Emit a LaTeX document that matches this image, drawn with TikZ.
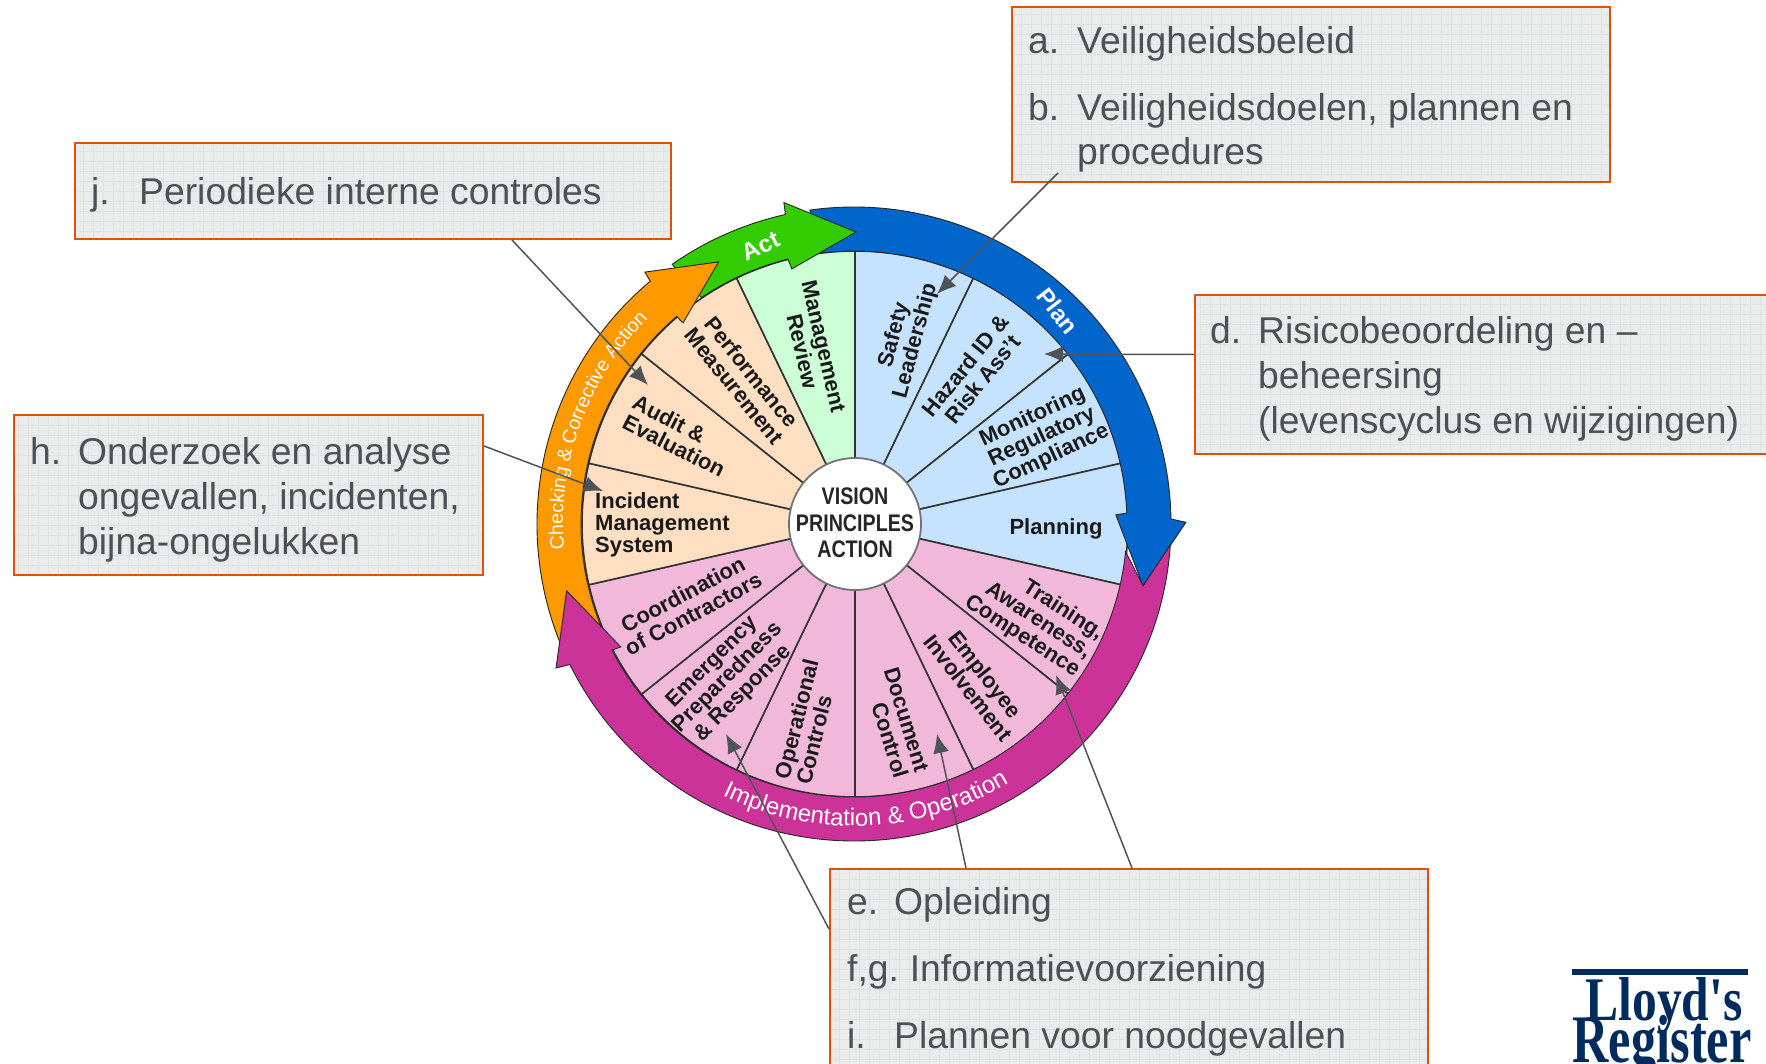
\documentclass[tikz,border=0pt]{standalone}
\usepackage{fontspec}
\setmainfont{Liberation Sans}
\newfontfamily\logofont{Liberation Serif}
\usetikzlibrary{arrows.meta,decorations.text}

\definecolor{boxfill}{HTML}{EAECEC}
\definecolor{boxgrid}{HTML}{DFE2E2}
\definecolor{boxline}{HTML}{E2500C}
\definecolor{boxtxt}{HTML}{4D5156}
\definecolor{leadgray}{HTML}{505458}
\definecolor{slicebl}{HTML}{C5E2FF}
\definecolor{slicepk}{HTML}{F1B8D9}
\definecolor{sliceor}{HTML}{FFDFC2}
\definecolor{slicegr}{HTML}{CCFFD6}
\definecolor{ringbl}{HTML}{0066CC}
\definecolor{ringpk}{HTML}{CC3399}
\definecolor{ringor}{HTML}{FF9900}
\definecolor{ringgr}{HTML}{33CC00}
\definecolor{logoblue}{HTML}{002B5C}

\newcommand{\squeezed}[2]{\scalebox{#1}[1]{#2}}

\tikzset{
    infobox/.style={anchor=north west, inner sep=0pt, fill=boxfill, draw=boxline, line width=2pt,
        path picture={\draw[boxgrid, line width=0.6pt] (path picture bounding box.south west) grid[step=10pt] (path picture bounding box.north east);}},
    boxtext/.style={anchor=base west, inner sep=0pt, text=boxtxt, align=left, font=\fontsize{37.3}{45}\selectfont},
    slicetext/.style={inner sep=0pt, align=center, text=black!90, font=\fontsize{22}{22}\bfseries\selectfont},
    ringtext/.style={inner sep=0pt, text=white, font=\fontsize{24}{24}\bfseries\selectfont},
    slice/.style={draw=black!80, line width=1.6pt},
    ringarrow/.style={draw=black!85, line width=0.9pt, line join=miter},
    leader/.style={draw=leadgray, line width=1.5pt, -{Latex[length=19pt,width=16pt]}},
}

\begin{document}
\begin{tikzpicture}[x=1pt,y=-1pt]
        \useasboundingbox (0,0) rectangle (1766,1064);
        \clip (0,0) rectangle (1766,1064);

        \begin{scope}[shift={(855,524)},y=1pt] %Wheel
            \filldraw[slice,fill=slicebl] (0,0) -- (90:273) arc[start angle=90,end angle=64.29,radius=273] -- cycle;
            \filldraw[slice,fill=slicebl] (0,0) -- (64.29:273) arc[start angle=64.29,end angle=38.57,radius=273] -- cycle;
            \filldraw[slice,fill=slicebl] (0,0) -- (38.57:273) arc[start angle=38.57,end angle=12.86,radius=273] -- cycle;
            \filldraw[slice,fill=slicebl] (0,0) -- (12.86:273) arc[start angle=12.86,end angle=-12.86,radius=273] -- cycle;

            \filldraw[slice,fill=slicepk] (0,0) -- (-12.86:273) arc[start angle=-12.86,end angle=-38.57,radius=273] -- cycle;
            \filldraw[slice,fill=slicepk] (0,0) -- (-38.57:273) arc[start angle=-38.57,end angle=-64.29,radius=273] -- cycle;
            \filldraw[slice,fill=slicepk] (0,0) -- (-64.29:273) arc[start angle=-64.29,end angle=-90,radius=273] -- cycle;
            \filldraw[slice,fill=slicepk] (0,0) -- (-90:273) arc[start angle=-90,end angle=-115.71,radius=273] -- cycle;
            \filldraw[slice,fill=slicepk] (0,0) -- (-115.71:273) arc[start angle=-115.71,end angle=-141.43,radius=273] -- cycle;
            \filldraw[slice,fill=slicepk] (0,0) -- (-141.43:273) arc[start angle=-141.43,end angle=-167.14,radius=273] -- cycle;

            \filldraw[slice,fill=sliceor] (0,0) -- (192.86:273) arc[start angle=192.86,end angle=167.14,radius=273] -- cycle;
            \filldraw[slice,fill=sliceor] (0,0) -- (167.14:273) arc[start angle=167.14,end angle=141.43,radius=273] -- cycle;
            \filldraw[slice,fill=sliceor] (0,0) -- (141.43:273) arc[start angle=141.43,end angle=115.71,radius=273] -- cycle;

            \filldraw[slice,fill=slicegr] (0,0) -- (115.71:273) arc[start angle=115.71,end angle=90,radius=273] -- cycle;

            \fill[white] (0,0) circle (66);
            \draw[black!55, line width=1.8pt] (0,0) circle (66);
        \end{scope}

        \begin{scope}[shift={(854,524)},y=1pt] %Ring arrows
            \filldraw[ringarrow,fill=ringbl] (98:317) arc[start angle=98,end angle=0.9,radius=317] -- (0.3:332) -- (-12.1:295.6) -- (2:262) -- (2.3:273) arc[start angle=2.3,end angle=98,radius=273] -- cycle;
            \filldraw[ringarrow,fill=ringgr] (125:317) arc[start angle=125,end angle=102.5,radius=317] -- (102.3:329) -- (89.6:292) -- (103.7:262.6) -- (104:273) arc[start angle=104,end angle=124,radius=273] -- cycle;
            \filldraw[ringarrow,fill=ringor] (204:317) arc[start angle=204,end angle=130,radius=317] -- (129.7:327.4) -- (117.3:295) -- (130.4:264) -- (130.5:273) arc[start angle=130.5,end angle=204,radius=273] -- cycle;
            \filldraw[ringarrow,fill=ringpk] (-3.8:317) arc[start angle=-3.8,end angle=-153.7,radius=317] -- (-154.2:331) -- (-166.9:295) -- (-152.2:263.6) -- (-152.5:273) arc[start angle=-152.5,end angle=-5.8,radius=273] -- (-12.1:295.6) -- cycle;

            \path[decorate,decoration={text along path,text align=center,
                text={|\fontsize{19.5}{20}\selectfont\color{white}|Checking {\&} Corrective Action}}]
                (185:291) arc[start angle=185,end angle=135,radius=291];
            \path[decorate,decoration={text along path,text align=center,
                text={|\fontsize{24}{24}\selectfont\color{white}|Implementation {\&} Operation}}]
                (243:302) arc[start angle=243,end angle=302,radius=302];
        \end{scope}

        \node[ringtext,rotate=25] (act) at (761,246) {Act};
        \node[ringtext,rotate=-52] (plan) at (1058,311) {Plan};

        \node[inner sep=0pt,align=center,text=black!85,font=\fontsize{24}{26.5}\bfseries\selectfont] (hub) at (855,523)
            {\squeezed{.82}{VISION}\\\squeezed{.82}{PRINCIPLES}\\\squeezed{.82}{ACTION}};

        \node[slicetext,rotate=-77] (mreview) at (813,349) {Management\\Review};
        \node[slicetext,rotate=75] (safety) at (905,338) {Safety\\Leadership};
        \node[slicetext,rotate=51] (hazard) at (974,372) {Hazard ID \&\\Risk Ass't};
        \node[slicetext,rotate=25] (monitor) at (1042,437) {Monitoring\\Regulatory\\Compliance};
        \node[slicetext] (planning) at (1056,529) {Planning};
        \node[slicetext,align=right,rotate=-33] (training) at (1034,618) {Training,\\Awareness,\\Competence};
        \node[slicetext,rotate=-52] (employee) at (977,681) {Employee\\Involvement};
        \node[slicetext,align=right,rotate=-73] (document) at (896,723) {Document\\Control};
        \node[slicetext,align=left,rotate=76] (opcontrol) at (807,722) {Operational\\Controls};
        \node[slicetext,rotate=45] (emergency) at (728,678) {Emergency\\Preparedness\\\& Response};
        \node[slicetext,rotate=28] (coord) at (688,604) {Coordination\\of Contractors};
        \node[slicetext,align=left,anchor=west] (incident) at (595,525) {Incident\\Management\\System};
        \node[slicetext,align=left,rotate=-27] (audit) at (679,436) {Audit \&\\Evaluation};
        \node[slicetext,rotate=-51] (perform) at (743,379) {Performance\\Measurement};

        %Boxes
        \node[infobox,minimum width=598,minimum height=175] (boxa) at (1011,6) {};
        \node[infobox,minimum width=596,minimum height=96] (boxj) at (74,142) {};
        \node[infobox,minimum width=590,minimum height=159] (boxd) at (1194,294) {};
        \node[infobox,minimum width=469,minimum height=160] (boxh) at (13,414) {};
        \node[infobox,minimum width=598,minimum height=220] (boxe) at (829,868) {};

        \node[boxtext] (laba) at (1028,54) {a.};
        \node[boxtext] (txta) at (1077,54) {Veiligheidsbeleid};
        \node[boxtext] (labb) at (1028,121) {b.};
        \node[boxtext] (txtb) at (1077,121) {Veiligheidsdoelen, plannen en};
        \node[boxtext] (txtb2) at (1077,165) {procedures};

        \node[boxtext] (labj) at (91,205) {j.};
        \node[boxtext] (txtj) at (139,205) {Periodieke interne controles};

        \node[boxtext] (labd) at (1210,344) {d.};
        \node[boxtext] (txtd) at (1258,344) {Risicobeoordeling en –};
        \node[boxtext] (txtd2) at (1258,388) {beheersing};
        \node[boxtext] (txtd3) at (1258,433) {(levenscyclus en wijzigingen)};

        \node[boxtext] (labh) at (30,464) {h.};
        \node[boxtext] (txth) at (78,464) {Onderzoek en analyse};
        \node[boxtext] (txth2) at (78,509) {ongevallen, incidenten,};
        \node[boxtext] (txth3) at (78,554) {bijna-ongelukken};

        \node[boxtext] (labe) at (847,914) {e.};
        \node[boxtext] (txte) at (894,914) {Opleiding};
        \node[boxtext] (txtf) at (847,981) {f,g.\hspace{-3pt} Informatievoorziening};
        \node[boxtext] (labi) at (847,1048) {i.};
        \node[boxtext] (txti) at (894,1048) {Plannen voor noodgevallen};

        %Leader lines
        \coordinate (tipa) at (937,294);
        \coordinate (tipd) at (1044,354);
        \coordinate (tipj) at (648,385);
        \coordinate (tiph) at (603,491);
        \coordinate (tipt) at (1056,675);
        \coordinate (tipc) at (937,734);
        \coordinate (tipn) at (726,734);

        \draw[leader] ([xshift=47pt,yshift=10pt]boxa.south west) -- (tipa);
        \draw[leader] ([yshift=20pt]boxd.west) -- (tipd);
        \draw[leader] ([xshift=438pt]boxj.south west) -- (tipj);
        \draw[leader] ([yshift=49pt]boxh.east) -- (tiph);
        \draw[leader] ([xshift=303pt]boxe.north west) -- (tipt);
        \draw[leader] ([xshift=137pt]boxe.north west) -- (tipc);
        \draw[leader] ([yshift=-61pt]boxe.north west) -- (tipn);

        %Logo
        \fill[logoblue] (1572,969) rectangle (1748,975);
        \node[inner sep=0pt,anchor=base,text=logoblue,font=\fontsize{62}{62}\logofont\bfseries\selectfont] (lloyds) at (1664,1020) {\squeezed{.8}{Lloyd's}};
        \node[inner sep=0pt,anchor=base,text=logoblue,font=\fontsize{68}{68}\logofont\bfseries\selectfont] (register) at (1662,1062) {\squeezed{.74}{Register}};
\end{tikzpicture}
\end{document}
